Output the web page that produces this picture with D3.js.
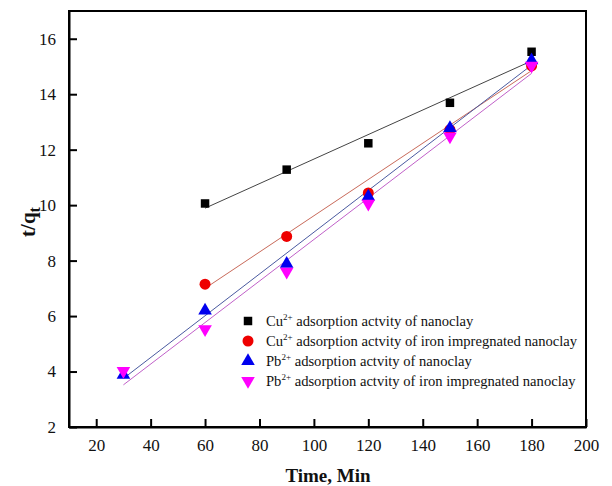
<!DOCTYPE html>
<html>
<head>
<meta charset="utf-8">
<script src="https://cdn.jsdelivr.net/npm/d3@7"></script>
<style>
  html, body { margin: 0; padding: 0; background: #fff; }
  svg { display: block; }
  text { font-family: "Liberation Serif", "Times New Roman", serif; }
</style>
</head>
<body>
<svg id="chart" width="612" height="486"></svg>
<script>
// Pseudo-second-order kinetics: t/qt against contact time
const xTicks = [20, 40, 60, 80, 100, 120, 140, 160, 180, 200];
const yTicks = [2, 4, 6, 8, 10, 12, 14, 16];

const timeCuNano = [60, 90, 120, 150, 180];
const cuNano = [10.06, 11.28, 12.23, 13.69, 15.53];

const timeCuIron = [60, 90, 120, 150, 180];
const cuIron = [7.15, 8.87, 10.44, 12.72, 15.02];

const timePb = [30, 60, 90, 120, 150, 180];
const pbNano = [3.88, 6.2, 7.88, 10.31, 12.78, 15.22];
const pbIron = [4.02, 5.53, 7.6, 10.05, 12.48, 15.03];

// Linear fit end points [time, t/qt]
const fitCuNano = [[60, 9.89], [180, 15.2]];
const fitCuIron = [[60, 7.0], [180, 14.85]];
const fitPbNano = [[30, 3.75], [180, 15.05]];
const fitPbIron = [[30, 3.52], [180, 14.75]];

const legendLabels = [
  ["Cu", "2+", " adsorption actvity of nanoclay"],
  ["Cu", "2+", " adsorption actvity of iron impregnated nanoclay"],
  ["Pb", "2+", " adsorption actvity of nanoclay"],
  ["Pb", "2+", " adsorption actvity of iron impregnated nanoclay"]
];

const svg = d3.select("#chart");
const plotL = 69, plotR = 586, plotT = 11, plotB = 427;

const x = d3.scaleLinear().domain([10, 200]).range([plotL, plotR]);
const y = d3.scaleLinear().domain([2, 17]).range([plotB, plotT]);

// frame
svg.append("rect")
  .attr("x", plotL).attr("y", plotT)
  .attr("width", plotR - plotL).attr("height", plotB - plotT)
  .attr("fill", "none").attr("stroke", "#000").attr("stroke-width", 2);

// axes with inward ticks
const xAxis = svg.append("g").attr("transform", `translate(0,${plotB})`)
  .call(d3.axisBottom(x).tickValues(xTicks).tickSizeInner(-8).tickSizeOuter(0).tickPadding(12));
const yAxis = svg.append("g").attr("transform", `translate(${plotL},0)`)
  .call(d3.axisLeft(y).tickValues(yTicks).tickSizeInner(-8).tickSizeOuter(0).tickPadding(13));
[xAxis, yAxis].forEach(g => {
  g.attr("font-family", null);
  g.select(".domain").attr("stroke", "#000").attr("stroke-width", 2);
  g.selectAll(".tick line").attr("stroke", "#000").attr("stroke-width", 2);
  g.selectAll(".tick text")
    .attr("font-size", 17).attr("fill", "#111");
});

// axis titles
svg.append("text")
  .attr("x", 328).attr("y", 482)
  .attr("text-anchor", "middle")
  .attr("font-size", 19).attr("font-weight", "bold").attr("fill", "#111")
  .text("Time, Min");

const yt = svg.append("text")
  .attr("transform", "translate(35,222) rotate(-90)")
  .attr("text-anchor", "middle")
  .attr("font-size", 21).attr("font-weight", "bold").attr("fill", "#111");
yt.append("tspan").text("t/q");
yt.append("tspan").attr("font-size", 16).attr("dy", 5).text("t");

// fit lines
const line = d3.line().x(d => x(d[0])).y(d => y(d[1]));
const fits = [
  [fitCuNano, "#444"],
  [fitCuIron, "#c86a5a"],
  [fitPbNano, "#4a5aa0"],
  [fitPbIron, "#c060c8"]
];
fits.forEach(([d, c]) => {
  svg.append("path").attr("d", line(d))
    .attr("fill", "none").attr("stroke", c).attr("stroke-width", 1);
});

// markers
const symSquare = d3.symbol().type(d3.symbolSquare).size(72);
const symCircle = d3.symbol().type(d3.symbolCircle).size(95);
const symTri = d3.symbol().type(d3.symbolTriangle).size(80);

const series = [
  { t: timeCuNano, v: cuNano, sym: symSquare, color: "#000", rot: 0 },
  { t: timeCuIron, v: cuIron, sym: symCircle, color: "#ee0000", rot: 0 },
  { t: timePb, v: pbNano, sym: symTri, color: "#0000ee", rot: 0 },
  { t: timePb, v: pbIron, sym: symTri, color: "#ff00ff", rot: 180 }
];
series.forEach(s => {
  svg.append("g").selectAll("path")
    .data(s.t.map((t, i) => [t, s.v[i]]))
    .join("path")
    .attr("d", s.sym())
    .attr("transform", d => `translate(${x(d[0])},${y(d[1])}) rotate(${s.rot})`)
    .attr("fill", s.color);
});

// legend
const legendY = [321, 341, 361, 381];
legendLabels.forEach((lab, i) => {
  const s = series[i];
  svg.append("path")
    .attr("d", s.sym())
    .attr("transform", `translate(248,${legendY[i]}) rotate(${s.rot})`)
    .attr("fill", s.color);
  const t = svg.append("text")
    .attr("x", 266).attr("y", legendY[i] + 5)
    .attr("font-size", 14.6).attr("fill", "#111");
  t.append("tspan").text(lab[0]);
  t.append("tspan").attr("font-size", 9).attr("dy", -6).text(lab[1]);
  t.append("tspan").attr("dy", 6).text(lab[2]);
});
</script>
</body>
</html>
